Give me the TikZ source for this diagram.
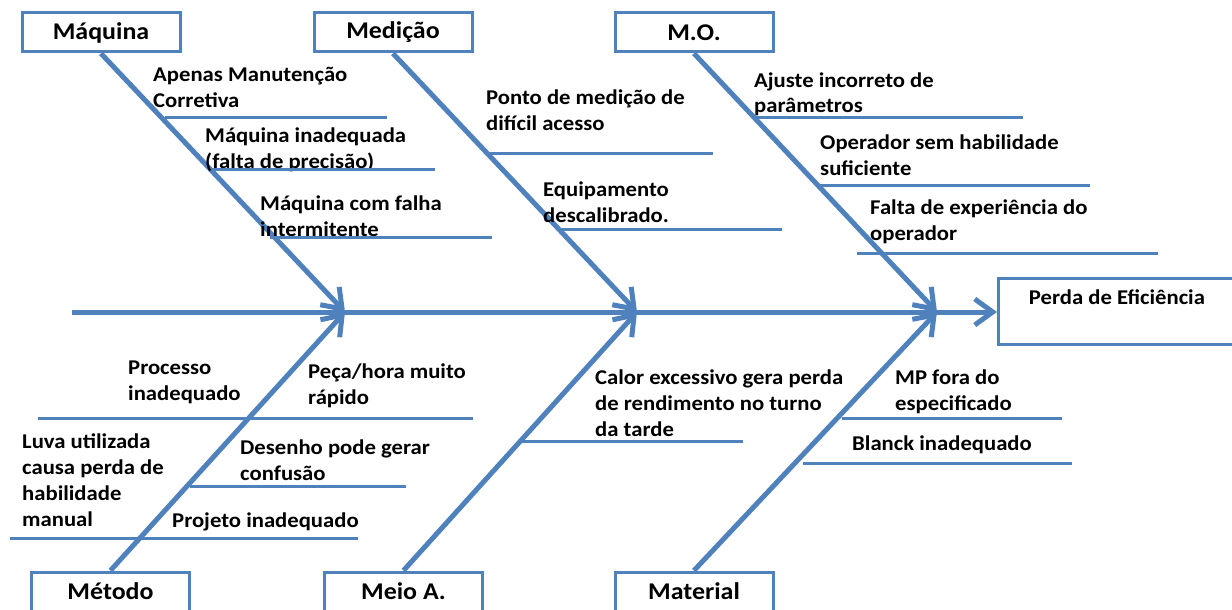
\documentclass[tikz,border=0pt]{standalone}
\usepackage{fontspec}
\setmainfont{Carlito}[FakeStretch=1.08]
\usepackage{tikz}
\usetikzlibrary{shapes, arrows.meta, positioning}
\definecolor{ishiblue}{HTML}{4F81BD}

\begin{document}
\begin{tikzpicture}[x=1pt, y=-1pt, >={Straight Barb[length=18pt, width=26pt]},
    cat/.style={draw=ishiblue, line width=3pt, rectangle, minimum width=158pt, minimum height=39pt, font=\fontsize{24}{28}\selectfont\bfseries},
    cause/.style={anchor=base west, align=left, inner sep=0pt, font=\fontsize{21}{25.7}\selectfont\bfseries},
    bone/.style={draw=ishiblue, line width=5pt},
    rib/.style={draw=ishiblue, line width=3pt}]
    \useasboundingbox (0,0) rectangle (1232,610);

    % Categories
    \node[cat] (maq) at (101,32.5) {Máquina};
    \node[cat] (med) at (393,32.5) {Medição};
    \node[cat] (mo) at (694,32.5) {M.O.};
    \node[cat] (met) at (110.5,591.5) {Método};
    \node[cat] (meio) at (403.5,591.5) {Meio A.};
    \node[cat] (mat) at (694,591.5) {Material};

    % Effect
    \node[draw=ishiblue, line width=3pt, anchor=north west, minimum width=237pt, inner sep=0pt,
          text height=26pt, text depth=40pt, font=\fontsize{21}{25.7}\selectfont\bfseries] (efeito) at (997,277) {Perda de Eficiência};

    % Spine
    \coordinate (tail) at (72,312);
    \coordinate (j1) at (345,312);
    \coordinate (j2) at (637,312);
    \coordinate (j3) at (937,312);
    \draw[bone, ->] (tail) -- (tail -| efeito.west);

    % Bones
    \foreach \i/\a/\j in {maq/south/j1, med/south/j2, mo/south/j3, met/north/j1, meio/north/j2, mat/north/j3}
        \draw[bone, ->] (\i.\a) -- (\j);

    % Maquina (nodes sit on the baseline of their last line)
    \node[cause] (maq1) at (153,107) {Apenas Manutenção\\Corretiva};
    \node[cause] (maq2) at (205,168.5) {Máquina inadequada\\(falta de precisão)};
    \node[cause] (maq3) at (260,236) {Máquina com falha\\intermitente};
    \draw[rib] (165,117) -- (387,117);
    \draw[rib] (213,169) -- (435,169);
    \draw[rib] (270,237) -- (492,237);

    % Medicao
    \node[cause] (med1) at (486,130) {Ponto de medição de\\difícil acesso};
    \node[cause] (med2) at (543,222) {Equipamento\\descalibrado.};
    \draw[rib] (490,153) -- (713,153);
    \draw[rib] (560,229) -- (782,229);

    % M.O.
    \node[cause] (mo1) at (754,113) {Ajuste incorreto de\\parâmetros};
    \node[cause] (mo2) at (820,175) {Operador sem habilidade\\suficiente};
    \node[cause] (mo3) at (870,240) {Falta de experiência do\\operador};
    \draw[rib] (753,117) -- (1023,117);
    \draw[rib] (818,185) -- (1090,185);
    \draw[rib] (857,253) -- (1158,253);

    % Metodo
    \node[cause] (met1) at (128,400) {Processo\\inadequado};
    \node[cause] (met2) at (308,404) {Peça/hora muito\\rápido};
    \node[cause] (met3) at (22,526) {Luva utilizada\\causa perda de\\habilidade\\manual};
    \node[cause] (met4) at (240,480) {Desenho pode gerar\\confusão};
    \node[cause] (met5) at (172,527) {Projeto inadequado};
    \draw[rib] (38,418) -- (473,418);
    \draw[rib] (190,486) -- (406,486);
    \draw[rib] (10,538) -- (358,538);

    % Meio A.
    \node[cause] (meio1) at (595,436) {Calor excessivo gera perda\\de rendimento no turno\\da tarde};
    \draw[rib] (522,441) -- (743,441);

    % Material
    \node[cause] (mat1) at (895,410) {MP fora do\\especificado};
    \node[cause] (mat2) at (852,450) {Blanck inadequado};
    \draw[rib] (842,418) -- (1062,418);
    \draw[rib] (803,463) -- (1072,463);

\end{tikzpicture}
\end{document}
